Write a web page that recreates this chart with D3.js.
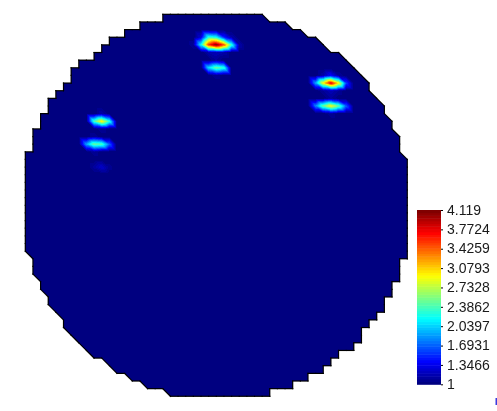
<!DOCTYPE html>
<html><head><meta charset="utf-8">
<script src="https://cdn.jsdelivr.net/npm/d3@7"></script>
<style>
body{margin:0;background:#fff;width:497px;height:411px;overflow:hidden}
canvas,svg{position:absolute;left:0;top:0}
#c{z-index:1} #s{z-index:2}
</style>
</head><body>
<canvas id="c" width="497" height="411"></canvas>
<svg id="s" width="497" height="411"></svg>
<script>
// ---------- data ----------
const gridCells = 50;          // mesh cells per side
const diskRadiusSq = 672;      // node test, cell units^2
const diskSkew = -0.04;        // cross term of node test
const baseValue = 1;
// non-background node values (column, row, value)
const hotCols = [23,24,25,26,27, 22,23,24,25,26,27,28, 24,25,26,
                 24,25,26,25,25,
                 38,39,40,41,42, 39,40,41, 39,40,41,
                 38,39,40,41,42, 40,40,
                 9,10,11,10,10,
                 8,9,10,11,9,9,
                 9,10,11];
const hotRows = [3,3,3,3,3, 4,4,4,4,4,4,4, 5,5,5,
                 7,7,7,6,8,
                 9,9,9,9,9, 8,8,8, 10,10,10,
                 12,12,12,12,12, 11,13,
                 14,14,14,13,15,
                 17,17,17,17,16,18,
                 20,20,20];
const hotVals = [1.3,2.3,2.2,1.5,1.15, 1.1,2.2,3.6,4.119,3.5,2.3,1.15, 1.15,1.2,1.15,
                 2.1,2.5,2.3,1.1,1.1,
                 1.9,3.0,3.85,3.0,1.6, 1.15,1.4,1.1, 1.1,1.2,1.1,
                 1.8,2.5,2.95,2.5,1.7, 1.1,1.1,
                 2.4,3.0,2.3,1.15,1.1,
                 1.9,2.5,2.4,1.7,1.1,1.1,
                 1.12,1.25,1.08];
const valueMin = 1, valueMax = 4.119;
const tickValues = [1,1.3466,1.6931,2.0397,2.3862,2.7328,3.0793,3.4259,3.7724,4.119];
const tickLabels = ["1","1.3466","1.6931","2.0397","2.3862","2.7328","3.0793","3.4259","3.7724","4.119"];
const nColors = 64;

// ---------- colormap (jet) ----------
function clamp01(v){return Math.max(0,Math.min(1,v));}
const jet = d3.range(nColors).map(k=>{
  const t = k/(nColors-1);
  const r = clamp01(Math.min(4*t-1.5, -4*t+4.5));
  const g = clamp01(Math.min(4*t-0.5, -4*t+3.5));
  const b = clamp01(Math.min(4*t+0.5, -4*t+2.5));
  return d3.rgb(Math.round(r*255),Math.round(g*255),Math.round(b*255)).formatHex();
});
const color = d3.scaleQuantize().domain([valueMin,valueMax]).range(jet);

// ---------- scales ----------
const x = d3.scaleLinear().domain([0,gridCells]).range([25.3,407.3]);
const y = d3.scaleLinear().domain([0,gridCells]).range([14.3,396.3]);

// node values
const val = d3.range(gridCells+1).map(()=>d3.range(gridCells+1).map(()=>baseValue));
hotCols.forEach((c,k)=>{ val[hotRows[k]][c] = hotVals[k]; });

// node inclusion
const ctr = gridCells/2;
const nodeIn = d3.range(gridCells+1).map(j=>d3.range(gridCells+1).map(i=>{
  const X=i-ctr, Y=j-ctr;
  return X*X+Y*Y+diskSkew*X*Y <= diskRadiusSq;
}));
// triangle inclusion: 0 = upper-right (TL,TR,BR), 1 = lower-left (TL,BL,BR)
const inc = d3.range(gridCells).map(j=>d3.range(gridCells).map(i=>{
  const tl=nodeIn[j][i], tr=nodeIn[j][i+1], br=nodeIn[j+1][i+1], bl=nodeIn[j+1][i];
  return [tl&&tr&&br, tl&&bl&&br];
}));

// ---------- fill (canvas) ----------
const cv = document.getElementById('c');
const ctx = cv.getContext('2d');
const W = 497, H = 411;
const img = ctx.createImageData(W,H);
const rgbCache = new Map();
function rgbOf(v){
  const h = color(v);
  if(!rgbCache.has(h)) rgbCache.set(h, d3.rgb(h));
  return rgbCache.get(h);
}
for(let py=0; py<H; py++){
  const gy = y.invert(py+0.5);
  if(gy<0||gy>=gridCells) continue;
  const j = Math.floor(gy), v = gy-j;
  for(let px=0; px<W; px++){
    const gx = x.invert(px+0.5);
    if(gx<0||gx>=gridCells) continue;
    const i = Math.floor(gx), u = gx-i;
    const upper = u>=v;
    if(!inc[j][i][upper?0:1]) continue;
    const a=val[j][i], b=val[j][i+1], c=val[j+1][i+1], d=val[j+1][i];
    const value = upper ? a+(b-a)*u+(c-b)*v : a+(c-d)*u+(d-a)*v;
    const col = rgbOf(value);
    const o = (py*W+px)*4;
    img.data[o]=col.r; img.data[o+1]=col.g; img.data[o+2]=col.b; img.data[o+3]=255;
  }
}
ctx.putImageData(img,0,0);

// ---------- outline ----------
const edgeCount = new Map();
function addEdge(p,q){
  const k = (p[0]<q[0]||(p[0]===q[0]&&p[1]<q[1])) ? p.concat(q).join(',') : q.concat(p).join(',');
  edgeCount.set(k,(edgeCount.get(k)||0)+1);
}
for(let j=0;j<gridCells;j++) for(let i=0;i<gridCells;i++){
  const TL=[i,j],TR=[i+1,j],BR=[i+1,j+1],BL=[i,j+1];
  if(inc[j][i][0]){addEdge(TL,TR);addEdge(TR,BR);addEdge(TL,BR);}
  if(inc[j][i][1]){addEdge(TL,BL);addEdge(BL,BR);addEdge(TL,BR);}
}
const segs = [];
edgeCount.forEach((n,k)=>{
  if(n!==1) return;
  segs.push(k.split(',').map(Number));
});
const svg = d3.select('#s');
svg.append('g').selectAll('line').data(segs).join('line')
   .attr('x1',s=>x(s[0])).attr('y1',s=>y(s[1]))
   .attr('x2',s=>x(s[2])).attr('y2',s=>y(s[3]))
   .attr('stroke','#000').attr('stroke-width',1.2).attr('stroke-linecap','square');

// ---------- colorbar ----------
const yBar = d3.scaleLinear().domain([valueMin,valueMax]).range([384.3,210]);
const step = (valueMax-valueMin)/nColors;
svg.append('g').selectAll('rect').data(jet).join('rect')
  .attr('x',417).attr('width',24)
  .attr('y',(c,k)=>yBar(valueMin+(k+1)*step))
  .attr('height',(c,k)=>yBar(valueMin+k*step)-yBar(valueMin+(k+1)*step)+0.5)
  .attr('fill',c=>c);
const axis = d3.axisRight(yBar).tickValues(tickValues)
  .tickFormat((d,i)=>tickLabels[i]).tickSize(2).tickPadding(4);
const ag = svg.append('g').attr('transform','translate(441,0)').call(axis);
ag.select('.domain').remove();
ag.selectAll('line').attr('stroke','#000');
ag.selectAll('text').attr('font-family','"Liberation Sans", Arial, sans-serif')
  .attr('font-size',14).attr('fill','#1a1a1a').attr('dy','0.3em');

// small clipped mark at the bottom-right edge
svg.append('rect').attr('x',495.5).attr('y',398).attr('width',1.5).attr('height',7).attr('fill','#3a3ae0');
</script>
</body></html>
